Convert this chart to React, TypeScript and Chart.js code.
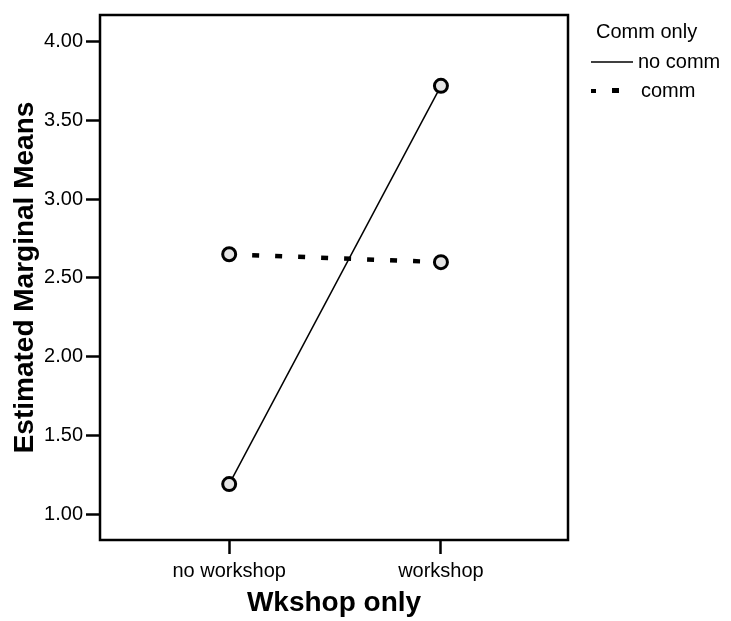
import React, { useEffect, useRef } from "react";
import { Chart, registerables } from "chart.js";

Chart.register(...registerables);

const categories = ["no workshop", "workshop"];
const seriesNames = ["no comm", "comm"];
const noCommValues = [1.19, 3.72];
const commValues = [2.65, 2.6];
const yTickValues = [1.0, 1.5, 2.0, 2.5, 3.0, 3.5, 4.0];
const legendTitle = "Comm only";
const xTitle = "Wkshop only";
const yTitle = "Estimated Marginal Means";

const FONT = "'Liberation Sans', Arial, sans-serif";

export default function App() {
  const ref = useRef<HTMLCanvasElement | null>(null);

  useEffect(() => {
    if (!ref.current) return;

    const framePlugin = {
      id: "frameAndLegend",
      afterDraw(chart: any) {
        const ctx = chart.ctx;
        const a = chart.chartArea;
        ctx.save();
        ctx.strokeStyle = "#000";
        ctx.lineWidth = 2.5;
        ctx.strokeRect(a.left, a.top, a.right - a.left, a.bottom - a.top);

        // legend
        ctx.fillStyle = "#000";
        ctx.font = `20px ${FONT}`;
        ctx.textBaseline = "middle";
        ctx.textAlign = "left";
        ctx.fillText(legendTitle, 596, 32);
        // solid line sample
        ctx.lineWidth = 1.5;
        ctx.beginPath();
        ctx.moveTo(591, 62);
        ctx.lineTo(633, 62);
        ctx.stroke();
        ctx.fillText(seriesNames[0], 638, 62);
        // dashed sample
        ctx.fillRect(591, 89, 5, 4);
        ctx.fillRect(612, 88, 7, 5);
        ctx.fillText(seriesNames[1], 641, 91);
        ctx.restore();
      },
    };

    const toPts = (vals: number[]) => vals.map((v, i) => ({ x: i, y: v }));

    const chart = new Chart(ref.current, {
      type: "line",
      data: {
        datasets: [
          {
            label: seriesNames[0],
            data: toPts(noCommValues),
            borderColor: "#000",
            borderWidth: 1.5,
            pointRadius: 6.5,
            pointBorderWidth: 3,
            pointBackgroundColor: "#e4e4e4",
            pointBorderColor: "#000",
            tension: 0,
          },
          {
            label: seriesNames[1],
            data: toPts(commValues),
            borderColor: "#000",
            borderWidth: 4.5,
            borderDash: [7, 16],
            borderDashOffset: 0,
            pointRadius: 6.5,
            pointBorderWidth: 3,
            pointBackgroundColor: "#e4e4e4",
            pointBorderColor: "#000",
            tension: 0,
          },
        ],
      },
      options: {
        animation: false,
        responsive: false,
        maintainAspectRatio: false,
        layout: { padding: { top: 10, right: 163, left: 0, bottom: 0 } },
        plugins: {
          legend: { display: false },
          tooltip: { enabled: false },
        },
        scales: {
          x: {
            type: "linear",
            min: -0.61,
            max: 1.6,
            afterFit: (s: any) => {
              s.height = 81;
            },
            afterBuildTicks: (s: any) => {
              s.ticks = categories.map((_, i) => ({ value: i }));
            },
            ticks: {
              color: "#000",
              font: { family: FONT, size: 20 },
              padding: 5,
              maxRotation: 0,
              autoSkip: false,
              callback: (v: any) => categories[Number(v)] ?? "",
            },
            grid: {
              display: true,
              drawOnChartArea: false,
              drawTicks: true,
              tickLength: 14,
              tickWidth: 2.5,
              tickColor: "#000",
            },
            border: { display: false },
            title: {
              display: true,
              text: xTitle,
              color: "#000",
              font: { family: FONT, size: 28, weight: "bold" },
              padding: { top: 0, bottom: 1 },
            },
          },
          y: {
            type: "linear",
            min: 0.835,
            max: 4.17,
            afterFit: (s: any) => {
              s.width = 100;
            },
            afterBuildTicks: (s: any) => {
              s.ticks = yTickValues.map((v) => ({ value: v }));
            },
            ticks: {
              color: "#000",
              font: { family: FONT, size: 20 },
              padding: 3,
              callback: (v: any) => Number(v).toFixed(2),
            },
            grid: {
              display: true,
              drawOnChartArea: false,
              drawTicks: true,
              tickLength: 14,
              tickWidth: 2.5,
              tickColor: "#000",
            },
            border: { display: false },
            title: {
              display: true,
              text: yTitle,
              color: "#000",
              font: { family: FONT, size: 28, weight: "bold" },
              padding: { top: 8, bottom: 0 },
            },
          },
        },
      },
      plugins: [framePlugin],
    } as any);

    return () => chart.destroy();
  }, []);

  return (
    <div style={{ position: "fixed", left: 0, top: 0, width: 731, height: 621, background: "#fff" }}>
      <canvas ref={ref} width={731} height={621} style={{ display: "block", width: 731, height: 621 }} />
    </div>
  );
}
